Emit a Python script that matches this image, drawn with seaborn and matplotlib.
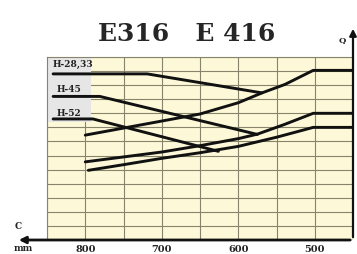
import matplotlib
matplotlib.use("Agg")
import matplotlib.pyplot as plt
import seaborn as sns
import pandas as pd
from matplotlib.patches import Rectangle, FancyArrowPatch

# ---- data ----
h28_x = [842, 719, 569]
h28_y = [11.8, 11.8, 10.45]
h45_x = [842, 781, 575]
h45_y = [10.2, 10.2, 7.5]
h52_x = [842, 790, 626]
h52_y = [8.6, 8.6, 6.3]
q1_x = [800, 750, 700, 650, 600, 569, 539, 502, 450]
q1_y = [7.45, 7.95, 8.45, 8.95, 9.75, 10.45, 11.05, 12.05, 12.05]
q2_x = [800, 750, 700, 650, 600, 575, 540, 502, 450]
q2_y = [5.55, 5.9, 6.25, 6.7, 7.2, 7.52, 8.2, 9.0, 9.0]
q3_x = [796, 750, 700, 650, 600, 550, 502, 450]
q3_y = [4.95, 5.35, 5.8, 6.2, 6.65, 7.3, 8.0, 8.0]

labels = ["H-28,33", "H-45", "H-52"]
label_x = [843, 838, 838]
label_y = [12.55, 10.75, 9.05]
tick_values = [800, 700, 600, 500]
tick_labels = ["800", "700", "600", "500"]
title = "E316   E 416"

series = {"h28": (h28_x, h28_y), "h45": (h45_x, h45_y), "h52": (h52_x, h52_y),
          "q1": (q1_x, q1_y), "q2": (q2_x, q2_y), "q3": (q3_x, q3_y)}
rows = []
for name, (xs, ys) in series.items():
    for x, y in zip(xs, ys):
        rows.append({"series": name, "x": x, "y": y})
df = pd.DataFrame(rows)

sns.set_style("white")
fig = plt.figure(figsize=(3.57, 2.55), dpi=100)
fig.patch.set_facecolor("white")
ax = fig.add_axes([47/357, 14/255, 306/357, 183/255])
ax.set_facecolor("#fdf9d8")

sns.lineplot(data=df, x="x", y="y", hue="series",
             palette=["#111111"] * 6, linewidth=2.1, legend=False, ax=ax,
             estimator=None, zorder=5)

ax.set_xlim(850, 450)
ax.set_ylim(0, 13)

# grid
for gx in range(450, 851, 50):
    ax.axvline(gx, color="#86846a", lw=0.8, zorder=1)
for gy in range(0, 14):
    ax.axhline(gy, color="#86846a", lw=0.8, zorder=1)

ax.add_patch(Rectangle((850, 8.35), -58, 4.65, facecolor="#e6e6e6",
                       edgecolor="none", zorder=2))

for lab, lx, ly in zip(labels, label_x, label_y):
    ax.text(lx, ly, lab, fontsize=6.5, fontweight="bold",
            family="DejaVu Serif", color="#222222",
            va="center", ha="left", zorder=6)

ax.set_xticks(tick_values)
ax.set_xticklabels(tick_labels, fontsize=7, fontweight="bold",
                   family="DejaVu Serif", color="#222222")
ax.tick_params(axis="x", length=0, pad=3)
ax.set_yticks([])
ax.set_xlabel("")
ax.set_ylabel("")

for s in ["left", "top"]:
    ax.spines[s].set_color("#86846a")
    ax.spines[s].set_linewidth(0.8)
ax.spines["bottom"].set_visible(False)
ax.spines["right"].set_visible(False)

# axes arrows
fig.patches.append(FancyArrowPatch(
    (353/357, 14/255), (16/357, 14/255), transform=fig.transFigure,
    arrowstyle="-|>,head_length=4,head_width=2", lw=2.0, color="#111111",
    mutation_scale=1))
fig.patches.append(FancyArrowPatch(
    (353/357, 14/255), (353/357, 228/255), transform=fig.transFigure,
    arrowstyle="-|>,head_length=4,head_width=2", lw=1.6, color="#111111",
    mutation_scale=1))

fig.text(187/357, 221/255, title, fontsize=18, fontweight="bold",
         family="DejaVu Serif", color="#262626", ha="center", va="center")
fig.text(342/357, 215/255, "Q", fontsize=6, fontweight="bold",
         family="DejaVu Serif", color="#222222", ha="center", va="center")
fig.text(18/357, 28/255, "C", fontsize=6.5, fontweight="bold",
         family="DejaVu Serif", color="#222222", ha="center", va="center")
fig.text(23/357, 6/255, "mm", fontsize=6.5, fontweight="bold",
         family="DejaVu Serif", color="#222222", ha="center", va="center")

fig.savefig("out.png", dpi=100, facecolor="white")
